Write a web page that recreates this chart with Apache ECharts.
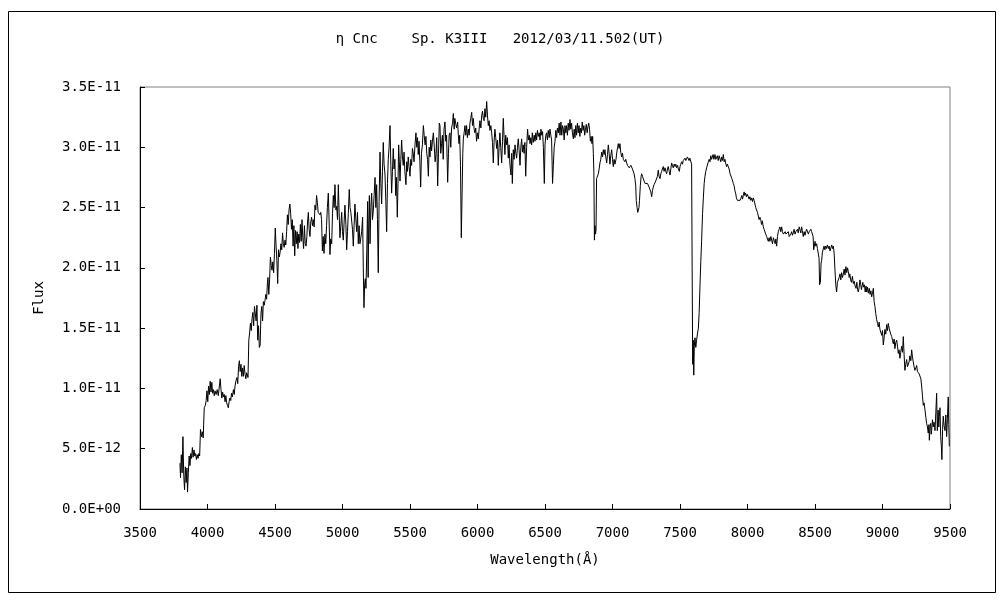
<!DOCTYPE html>
<html>
<head>
<meta charset="utf-8">
<script src="https://cdn.jsdelivr.net/npm/echarts@6/dist/echarts.min.js"></script>
<style>html,body{margin:0;padding:0;background:#fff}#c{width:1000px;height:600px}</style>
</head>
<body>
<div id="c"></div>
<script>
// Title / axis texts
const titleText = 'η Cnc    Sp. K3III   2012/03/11.502(UT)';
const xName = 'Wavelength(Å)';
const yName = 'Flux';
// Axis ranges (flux in units of 1e-12)
const xTicks = [3500, 9500, 500];
const yTicks = [0, 35, 5];
const fluxUnit = 1e-12;

// spectrum: [wavelength (Å), flux (1e-12 units)]
const spectrum = [
[3796,3.8],[3800,2.6],[3806,4.5],[3812,3.0],[3818,6.0],[3824,2.8],[3830,1.6],[3836,3.5],[3842,2.2],[3848,3.4],[3852,1.4],[3858,3.0],[3864,4.4],[3870,3.6],[3876,4.6],[3882,4.2],[3888,5.1],[3894,4.3],[3900,4.9],[3906,4.4],[3912,4.6],[3918,4.1],[3924,4.5],[3930,4.2],[3936,4.6],[3942,4.4],[3948,6.6],[3956,6.0],[3962,6.4],[3968,5.9],[3976,8.4],[3984,8.6],[3990,9.0],[3996,9.8],[4002,8.9],[4008,10.2],[4014,9.5],[4020,10.6],[4026,9.7],[4032,10.5],[4038,9.6],[4044,9.9],[4050,9.4],[4056,9.8],[4064,9.5],[4072,9.9],[4080,9.4],[4088,10.2],[4094,10.8],[4100,9.9],[4106,9.2],[4112,9.7],[4118,9.3],[4124,9.5],[4130,8.9],[4136,9.4],[4142,8.8],[4148,8.6],[4154,8.4],[4160,8.9],[4166,9.2],[4172,9.0],[4178,9.6],[4184,9.3],[4192,9.9],[4198,9.5],[4204,10.2],[4210,10.6],[4218,10.9],[4224,10.4],[4230,11.8],[4236,12.3],[4242,11.4],[4248,12.0],[4254,11.0],[4260,11.7],[4266,11.0],[4272,11.9],[4278,11.2],[4284,10.8],[4290,11.3],[4300,10.9],[4306,14.0],[4312,14.6],[4318,15.4],[4324,14.8],[4330,15.8],[4336,16.3],[4342,15.2],[4348,16.8],[4354,16.9],[4360,15.6],[4366,16.9],[4372,14.0],[4378,15.2],[4384,13.4],[4390,13.6],[4396,16.2],[4402,16.8],[4408,15.6],[4414,17.2],[4420,16.9],[4426,17.3],[4432,17.8],[4438,17.4],[4444,18.8],[4448,19.2],[4454,17.8],[4460,19.0],[4466,20.9],[4472,20.2],[4478,19.8],[4484,20.5],[4490,19.6],[4496,21.2],[4502,23.3],[4508,21.8],[4514,20.6],[4520,18.7],[4526,21.5],[4532,20.9],[4538,21.3],[4544,22.0],[4550,21.5],[4556,22.9],[4562,22.0],[4568,21.7],[4574,22.3],[4580,21.9],[4586,23.0],[4592,24.4],[4598,23.6],[4604,24.8],[4610,25.3],[4616,24.5],[4622,23.2],[4628,24.0],[4634,21.8],[4640,23.5],[4646,21.0],[4652,23.1],[4658,22.0],[4664,23.0],[4670,21.6],[4676,22.8],[4682,22.1],[4688,23.6],[4694,22.2],[4700,24.0],[4706,22.5],
[4712,21.6],[4718,23.5],[4724,22.0],[4730,21.8],[4736,22.6],[4741,23.8],[4747,24.6],[4753,23.2],[4759,22.6],[4765,23.8],[4771,24.2],[4778,23.5],[4784,24.0],[4790,23.4],[4796,25.2],[4802,24.8],[4808,26.0],[4814,25.4],[4820,24.6],[4826,24.6],[4833,24.4],[4839,24.6],[4845,24.0],[4851,21.4],[4857,22.6],[4863,21.2],[4870,22.8],[4876,22.0],[4882,23.5],[4888,25.0],[4895,26.2],[4901,23.8],[4907,21.1],[4913,22.4],[4920,22.0],[4926,24.5],[4932,26.0],[4938,25.0],[4944,26.9],[4951,24.8],[4957,25.1],[4963,24.0],[4969,26.9],[4975,24.6],[4981,22.5],[4987,23.4],[4994,24.6],[5000,23.0],[5006,22.3],[5012,23.8],[5018,25.2],[5025,23.6],[5031,21.5],[5037,23.0],[5043,24.5],[5050,26.5],[5056,25.0],[5062,24.6],[5068,24.6],[5074,23.2],[5080,21.8],[5086,23.5],[5092,25.3],[5098,24.2],[5105,23.0],[5111,24.6],[5117,22.0],[5123,23.5],[5129,22.0],[5135,22.4],[5142,23.0],[5149,24.2],[5154,20.0],[5159,16.7],[5164,18.6],[5169,19.1],[5174,18.3],[5180,21.5],[5186,25.5],[5190,19.2],[5194,23.5],[5199,26.0],[5204,22.0],[5210,25.0],[5216,26.2],[5222,24.0],[5228,24.7],[5234,26.0],[5241,27.5],[5247,25.0],[5253,26.9],[5259,24.0],[5265,19.6],[5271,25.5],[5278,29.6],[5284,27.0],[5290,25.3],[5296,28.0],[5302,30.4],[5308,28.6],[5315,27.7],[5321,25.5],[5327,23.0],[5333,27.0],[5339,29.0],[5345,30.0],[5352,31.8],[5358,28.5],[5364,26.2],[5370,28.0],[5376,29.9],[5382,28.2],[5388,29.0],[5394,26.0],[5400,27.5],[5406,24.2],[5411,27.0],[5416,30.2],[5421,28.8],[5426,27.2],[5432,29.0],[5438,30.6],[5444,29.2],[5450,28.5],[5456,29.6],[5462,28.0],[5470,26.9],[5476,28.8],[5481,28.0],[5487,29.2],[5493,28.4],[5500,27.6],[5506,29.0],[5512,28.5],[5518,29.9],[5524,29.5],[5530,28.8],[5537,30.2],[5544,31.2],[5550,30.0],[5556,30.8],[5561,29.4],[5567,30.5],[5573,28.8],[5579,26.7],[5585,29.5],[5592,30.2],[5599,31.8],[5605,31.0],[5612,30.2],[5618,30.9],[5624,29.5],[5630,29.0],[5636,27.6],[5642,30.0],[5648,29.2],[5654,30.6],[5660,29.7],[5666,30.5],[5673,31.2],[5680,30.0],[5686,28.8],[5692,29.4],[5698,30.8],[5705,26.8],[5711,29.5],[5717,32.0],
[5722,31.8],[5728,29.5],[5734,30.3],[5740,31.0],[5746,29.0],[5752,31.5],[5759,32.1],[5765,30.5],[5771,31.0],[5779,27.1],[5785,29.5],[5790,31.0],[5796,31.2],[5802,30.0],[5808,31.6],[5815,32.0],[5821,32.8],[5827,31.5],[5832,32.4],[5838,32.0],[5845,31.6],[5853,32.1],[5858,31.0],[5863,30.3],[5868,31.0],[5874,28.5],[5880,22.5],[5886,22.6],[5891,29.5],[5895,30.7],[5901,31.2],[5907,31.8],[5913,31.0],[5919,31.8],[5925,30.8],[5932,31.5],[5938,31.0],[5944,32.0],[5950,32.4],[5957,32.9],[5963,31.8],[5969,32.4],[5975,31.5],[5981,31.2],[5987,31.6],[5993,30.5],[6000,31.2],[6006,30.7],[6012,31.5],[6018,32.2],[6025,31.6],[6031,32.6],[6037,33.0],[6043,32.4],[6049,32.2],[6055,33.2],[6061,32.5],[6068,33.8],[6074,32.6],[6080,31.8],[6086,32.2],[6092,31.4],[6099,31.8],[6105,31.2],[6111,30.4],[6117,28.7],[6123,30.5],[6129,31.5],[6135,30.8],[6142,29.9],[6148,30.6],[6154,28.5],[6160,30.0],[6166,31.2],[6172,30.0],[6179,28.7],[6185,30.5],[6191,32.4],[6197,30.8],[6203,29.4],[6209,31.0],[6216,30.2],[6222,30.8],[6228,29.1],[6234,30.2],[6240,28.6],[6248,27.7],[6253,29.5],[6258,27.0],[6265,29.8],[6271,29.0],[6278,30.2],[6284,29.5],[6290,29.1],[6296,30.0],[6302,30.7],[6308,29.8],[6315,28.5],[6321,30.0],[6327,30.7],[6333,29.6],[6339,30.2],[6345,29.5],[6351,30.4],[6357,27.6],[6364,30.0],[6371,31.5],[6377,30.6],[6383,31.0],[6389,30.3],[6395,30.8],[6401,30.2],[6406,31.2],[6413,30.4],[6420,31.0],[6426,30.5],[6432,31.2],[6438,30.6],[6444,31.4],[6450,30.9],[6457,31.2],[6463,30.6],[6470,31.5],[6476,31.0],[6482,31.3],[6488,30.0],[6495,27.0],[6500,30.2],[6506,31.0],[6512,31.2],[6518,30.6],[6524,31.4],[6531,30.8],[6537,31.5],[6543,31.0],[6549,30.6],[6556,27.0],[6562,28.5],[6568,30.0],[6574,30.5],[6580,31.4],[6586,30.8],[6592,31.6],[6599,31.2],[6605,32.0],[6611,31.0],[6618,32.1],[6624,31.0],[6630,31.8],[6636,31.5],[6642,30.6],[6648,31.8],[6654,31.2],[6660,31.8],[6666,31.0],[6672,32.0],[6678,31.4],[6685,32.3],[6691,31.5],[6697,32.0],[6703,31.2],[6710,30.7],
[6716,31.5],[6722,30.8],[6728,31.8],[6734,31.0],[6740,32.0],[6746,31.2],[6752,31.8],[6758,30.9],[6764,31.6],[6770,31.2],[6776,32.1],[6782,31.4],[6788,31.8],[6794,31.0],[6800,31.5],[6806,31.9],[6812,31.2],[6818,31.7],[6824,32.0],[6830,31.5],[6836,30.5],[6842,30.9],[6848,30.3],[6853,30.9],[6858,29.5],[6862,27.9],[6866,22.3],[6870,23.5],[6874,22.8],[6878,23.1],[6882,27.4],[6888,27.5],[6895,27.8],[6901,28.2],[6907,28.7],[6913,29.0],[6920,29.6],[6926,29.2],[6932,29.8],[6938,29.4],[6944,29.8],[6950,29.2],[6957,28.7],[6963,29.4],[6969,30.2],[6975,29.5],[6981,28.6],[6987,29.3],[6994,29.8],[7000,29.0],[7006,28.4],[7012,29.0],[7018,28.6],[7026,29.0],[7032,29.6],[7038,30.0],[7043,30.3],[7049,29.9],[7055,30.3],[7061,29.6],[7068,29.2],[7074,29.5],[7080,29.0],[7085,29.0],[7092,28.8],[7098,29.0],[7105,28.7],[7111,28.5],[7117,28.6],[7124,28.3],[7130,28.2],[7136,28.5],[7142,28.4],[7148,28.2],[7154,28.1],[7160,27.8],[7166,27.4],[7172,26.8],[7176,25.6],[7182,25.0],[7187,24.6],[7191,24.5],[7196,25.0],[7200,25.6],[7206,26.8],[7212,27.6],[7216,27.8],[7222,27.6],[7228,27.6],[7234,27.2],[7241,27.0],[7247,27.1],[7253,26.9],[7259,27.0],[7265,26.9],[7271,26.7],[7278,26.6],[7284,26.3],[7290,25.9],[7296,26.4],[7302,26.7],[7308,26.9],[7314,27.0],[7320,27.2],[7327,27.3],[7333,27.6],[7339,28.1],[7345,27.6],[7352,27.4],[7358,27.8],[7364,28.0],[7370,28.2],[7376,28.4],[7382,28.0],[7389,28.3],[7395,28.0],[7401,27.8],[7407,28.2],[7413,28.4],[7420,28.0],[7426,27.7],[7432,28.2],[7438,28.7],[7444,28.5],[7450,28.3],[7457,28.6],[7463,28.4],[7469,28.6],[7475,28.3],[7482,28.5],[7488,28.2],[7495,28.0],[7500,28.4],[7506,28.6],[7512,28.8],[7518,28.6],[7524,28.9],[7530,28.8],[7537,29.1],[7543,28.9],[7549,29.0],[7555,29.2],[7561,29.2],[7567,28.9],[7573,29.1],[7580,29.0],[7586,28.6],[7590,20.0],[7594,12.0],[7598,14.0],[7602,11.1],[7606,13.5],[7611,14.2],[7617,13.4],[7623,14.0],[7630,14.6],[7636,15.0],[7642,16.3],[7648,18.5],[7654,20.5],[7660,22.2],[7667,24.5],[7673,25.8],[7679,27.0],[7685,27.6],[7691,28.0],[7697,28.3],
[7703,28.4],[7710,28.8],[7716,29.0],[7722,28.8],[7728,29.3],[7734,29.0],[7739,29.1],[7745,29.4],[7751,29.0],[7759,29.4],[7765,29.0],[7771,29.1],[7777,29.3],[7783,28.9],[7790,29.3],[7796,29.2],[7802,28.8],[7808,29.2],[7814,28.9],[7821,29.4],[7827,28.8],[7833,29.0],[7838,28.7],[7845,28.4],[7851,28.6],[7858,28.5],[7864,28.2],[7871,27.8],[7878,27.8],[7884,27.4],[7890,27.2],[7895,27.0],[7901,26.8],[7907,26.4],[7912,26.2],[7918,25.8],[7925,25.6],[7932,25.5],[7938,25.7],[7945,25.6],[7952,25.8],[7958,26.0],[7963,25.7],[7969,26.0],[7975,26.3],[7980,26.0],[7986,26.2],[7992,25.9],[7999,26.1],[8006,26.0],[8012,25.7],[8018,25.9],[8024,25.6],[8031,25.8],[8037,25.5],[8043,25.8],[8049,25.6],[8055,25.6],[8061,25.0],[8067,24.8],[8074,24.6],[8080,24.5],[8086,24.0],[8092,24.2],[8098,24.0],[8104,23.6],[8110,23.9],[8117,23.4],[8123,23.2],[8129,23.1],[8135,22.8],[8142,22.6],[8148,22.5],[8154,22.2],[8160,22.5],[8166,22.2],[8173,22.6],[8179,22.3],[8185,22.0],[8192,22.5],[8199,22.2],[8205,22.0],[8210,22.4],[8216,21.8],[8222,22.6],[8228,23.0],[8234,23.2],[8240,23.4],[8247,23.0],[8253,23.4],[8259,23.0],[8266,22.8],[8273,22.7],[8279,23.0],[8285,22.8],[8290,22.9],[8296,22.7],[8302,23.0],[8309,22.6],[8315,22.6],[8321,22.8],[8327,23.0],[8333,22.7],[8339,22.9],[8345,23.2],[8352,22.8],[8358,23.0],[8364,22.9],[8370,23.2],[8376,22.9],[8383,23.4],[8389,23.3],[8395,22.9],[8401,23.4],[8406,23.1],[8413,22.6],[8420,23.0],[8426,22.7],[8432,23.0],[8438,23.2],[8445,23.1],[8451,22.8],[8457,23.0],[8463,22.9],[8469,23.2],[8475,23.0],[8480,23.1],[8486,22.6],[8490,21.5],[8495,21.8],[8500,22.2],[8506,21.8],[8512,22.0],[8518,21.6],[8524,21.5],[8530,20.8],[8534,18.6],[8540,18.8],[8545,20.4],[8549,20.6],[8555,21.3],[8561,21.2],[8567,21.8],[8573,21.5],[8579,21.8],[8585,21.6],[8592,21.9],[8599,21.6],[8605,21.8],[8611,21.4],[8618,21.5],[8624,21.9],[8630,21.6],[8636,21.8],[8642,21.2],[8648,19.8],[8654,18.6],[8660,18.0],[8666,18.8],[8673,18.7],[8679,19.2],[8685,19.5],
[8691,19.0],[8697,19.6],[8704,19.2],[8710,19.5],[8716,19.9],[8722,19.4],[8729,20.1],[8735,19.6],[8741,20.0],[8747,19.7],[8753,19.2],[8758,19.5],[8764,19.0],[8770,18.8],[8777,19.3],[8784,18.7],[8790,18.9],[8797,18.5],[8804,18.3],[8810,18.8],[8815,18.2],[8821,18.0],[8827,18.4],[8833,19.0],[8839,18.6],[8844,18.2],[8848,18.2],[8854,18.8],[8860,18.4],[8866,18.6],[8872,18.0],[8878,18.5],[8883,18.0],[8889,18.4],[8895,17.9],[8902,18.3],[8908,17.8],[8914,18.1],[8920,17.6],[8926,17.9],[8932,18.3],[8938,17.2],[8944,16.8],[8950,16.2],[8957,15.7],[8963,15.4],[8969,15.1],[8975,15.5],[8981,14.9],[8987,15.0],[8994,14.4],[9000,14.8],[9006,13.6],[9012,14.2],[9018,14.9],[9024,14.5],[9031,15.3],[9037,14.8],[9043,15.4],[9049,15.0],[9055,14.9],[9061,14.5],[9068,14.3],[9074,14.0],[9080,13.7],[9086,14.1],[9092,13.3],[9098,13.8],[9105,14.0],[9111,13.5],[9117,12.9],[9123,13.2],[9129,12.5],[9135,13.0],[9142,13.5],[9148,13.0],[9154,14.3],[9160,12.8],[9166,11.5],[9172,12.0],[9179,12.4],[9185,11.8],[9191,11.7],[9197,12.2],[9203,12.7],[9210,12.3],[9216,13.2],[9222,12.6],[9228,12.2],[9234,11.8],[9240,11.5],[9247,11.7],[9253,11.9],[9259,11.4],[9265,11.5],[9272,11.2],[9278,11.3],[9284,10.8],[9290,10.2],[9296,9.4],[9302,8.6],[9308,8.8],[9315,8.2],[9321,7.6],[9327,7.1],[9333,6.8],[9339,6.3],[9344,7.0],[9347,5.7],[9352,6.8],[9357,7.1],[9361,6.2],[9364,6.5],[9370,7.4],[9376,6.8],[9382,7.2],[9389,6.5],[9395,8.0],[9401,9.6],[9406,6.5],[9412,8.2],[9417,6.8],[9421,7.7],[9426,8.4],[9431,6.0],[9436,5.2],[9440,4.1],[9445,6.6],[9450,7.7],[9456,6.9],[9463,6.5],[9469,7.8],[9475,6.0],[9481,7.5],[9487,9.3],[9491,7.0],[9495,5.2]
];

function fmtExp(v) {
  const s = (v * fluxUnit).toExponential(1);
  const parts = s.split('e');
  const sign = parts[1][0];
  let d = parts[1].slice(1);
  if (d.length < 2) d = '0' + d;
  return parts[0] + 'E' + sign + d;
}

const FONT = 'DejaVu Sans Mono';
const chart = echarts.init(document.getElementById('c'), null, {renderer: 'canvas'});
chart.setOption({
  animation: false,
  backgroundColor: '#ffffff',
  title: {
    text: titleText,
    left: 'center',
    top: 27,
    textStyle: {fontFamily: FONT, fontSize: 14, fontWeight: 'normal', color: '#000'}
  },
  grid: {left: 140, right: 50, top: 87, bottom: 91, show: true, borderColor: '#808080', borderWidth: 1, backgroundColor: 'transparent'},
  xAxis: {
    type: 'value', min: xTicks[0], max: xTicks[1], interval: xTicks[2],
    name: xName, nameLocation: 'middle', nameGap: 44,
    nameTextStyle: {fontFamily: FONT, fontSize: 14, color: '#000'},
    axisLine: {show: true, onZero: false, lineStyle: {color: '#000', width: 1}},
    axisTick: {show: true, inside: true, length: 5, lineStyle: {color: '#000'}},
    axisLabel: {fontFamily: FONT, fontSize: 14, color: '#000', margin: 17, formatter: v => String(v)},
    splitLine: {show: false}
  },
  yAxis: {
    type: 'value', min: yTicks[0], max: yTicks[1], interval: yTicks[2],
    name: yName, nameLocation: 'middle', nameGap: 94, nameRotate: 90,
    nameTextStyle: {fontFamily: FONT, fontSize: 14, color: '#000'},
    axisLine: {show: true, onZero: false, lineStyle: {color: '#000', width: 1}},
    axisTick: {show: true, inside: true, length: 5, lineStyle: {color: '#000'}},
    axisLabel: {fontFamily: FONT, fontSize: 14, color: '#000', margin: 19, formatter: fmtExp},
    splitLine: {show: false}
  },
  graphic: [{
    type: 'rect', left: 6, top: 9, z: -1,
    shape: {x: 0, y: 0, width: 987, height: 581},
    style: {fill: 'none', stroke: '#000', lineWidth: 1}
  }],
  series: [{
    type: 'line', data: spectrum, showSymbol: false, symbol: 'none',
    lineStyle: {color: '#000', width: 1}, itemStyle: {color: '#000'}
  }]
});
</script>
</body>
</html>
